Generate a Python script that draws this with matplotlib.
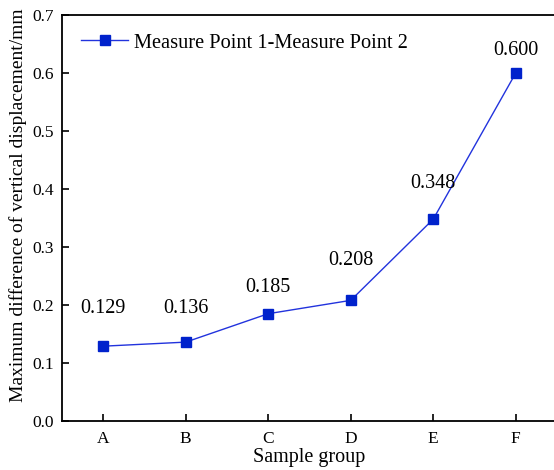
import matplotlib
matplotlib.use("Agg")
import matplotlib.pyplot as plt

groups = ["A", "B", "C", "D", "E", "F"]
diff = [0.129, 0.136, 0.185, 0.208, 0.348, 0.600]
y_ticks = [0.0, 0.1, 0.2, 0.3, 0.4, 0.5, 0.6, 0.7]

# vertical offset (pt) of each value label above its point
label_dy = [27, 24, 19, 29, 26, 16]

plt.rcParams["font.family"] = ["Liberation Serif", "DejaVu Serif"]

fig = plt.figure(figsize=(5.54, 4.70), dpi=100)
# right edge of the frame runs past the figure, as in the original
ax = fig.add_axes([62 / 554, 49 / 470, 495 / 554, 406 / 470])

x = list(range(len(groups)))
ax.plot(x, diff, color="#2233dd", lw=1.0, marker="s", ms=6.5,
        mfc="#0022cc", mec="#0022cc", label="Measure Point 1-Measure Point 2")

for xi, v, dy in zip(x, diff, label_dy):
    ax.annotate(f"{v:.3f}", (xi, v), xytext=(0, dy), textcoords="offset points",
                ha="center", va="center", fontsize=14.5)

ax.set_xlim(-0.5, 5.5)
ax.set_ylim(0, 0.7)
ax.set_xticks(x)
ax.set_xticklabels(groups)
ax.set_yticks(y_ticks)
ax.set_yticklabels([f"{t:.1f}" for t in y_ticks])
ax.tick_params(direction="in", length=5, width=1.2, labelsize=12.5)
ax.tick_params(axis="x", pad=7)
ax.tick_params(axis="y", pad=6)
for s in ax.spines.values():
    s.set_linewidth(1.3)

ax.set_xlabel("Sample group", fontsize=14.5, labelpad=1)
ax.set_ylabel("Maximum difference of vertical displacement/mm", fontsize=14)
ax.yaxis.set_label_coords(-0.070, 0.532)

ax.legend(loc="upper left", frameon=False, fontsize=14.7, handlelength=2.3,
          handletextpad=0.3, borderaxespad=0.3, bbox_to_anchor=(0.01, 0.99))

fig.savefig("out.png", dpi=100)
